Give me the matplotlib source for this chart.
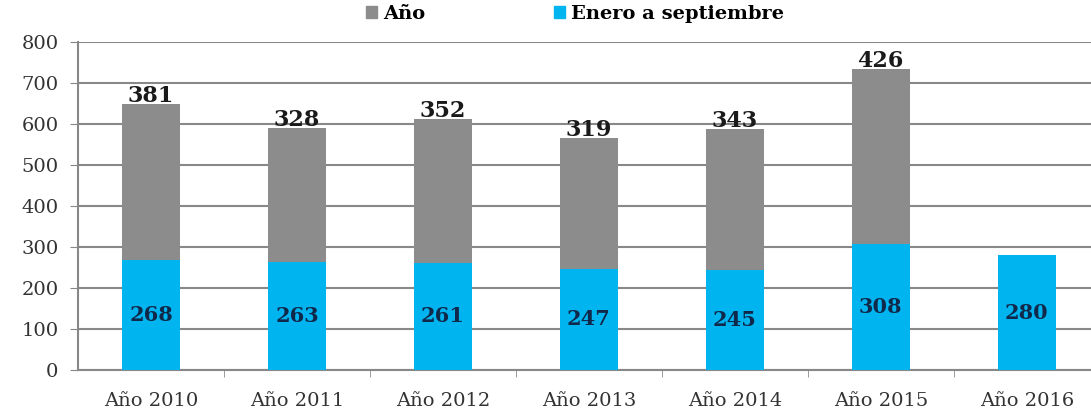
import matplotlib.pyplot as plt
from matplotlib.patches import Patch

years = ['Año 2010', 'Año 2011', 'Año 2012', 'Año 2013', 'Año 2014', 'Año 2015', 'Año 2016']
enero_sep = [268, 263, 261, 247, 245, 308, 280]
anio = [381, 328, 352, 319, 343, 426, None]

gray = '#8c8c8c'
blue = '#00b4ef'

plt.rcParams['font.family'] = 'DejaVu Serif'

fig = plt.figure(figsize=(10.91, 4.19), dpi=100)
ax = fig.add_axes([78 / 1091, 49 / 419, 1013 / 1091, 328 / 419])

x = list(range(len(years)))
ax.bar(x, enero_sep, width=0.4, color=blue, zorder=3)
for i, v in enumerate(anio):
    if v is None:
        continue
    ax.bar(i, v, width=0.4, bottom=enero_sep[i], color=gray, zorder=3)
    ax.text(i, enero_sep[i] + v - 7, str(v), ha='center', va='bottom',
            fontsize=16, fontweight='bold', color='#1a1a1a', zorder=4)
for i, v in enumerate(enero_sep):
    ax.text(i, v / 2, str(v), ha='center', va='center',
            fontsize=15, fontweight='bold', color='#10284a', zorder=4)

ax.set_ylim(0, 800)
ax.set_yticks(range(0, 801, 100))
ax.set_xlim(-0.5, 6.44)
ax.set_xticks(x)
ax.set_xticklabels(years)
ax.set_xticks([i + 0.5 for i in range(6)], minor=True)
ax.tick_params(axis='x', which='major', length=0, pad=16, labelsize=14, colors='#333333')
ax.tick_params(axis='x', which='minor', length=5, color='#888888')
ax.tick_params(axis='y', length=6, color='#888888', labelsize=14, labelcolor='#333333', pad=8)
ax.grid(axis='y', color='#888888', linewidth=1.5, zorder=0)
for s in ['top', 'right']:
    ax.spines[s].set_visible(False)
ax.spines['left'].set_color('#888888')
ax.spines['left'].set_linewidth(1.5)
ax.spines['bottom'].set_color('#888888')
ax.spines['bottom'].set_linewidth(1.5)

handles = [Patch(color=gray, label='Año'), Patch(color=blue, label='Enero a septiembre')]
fig.legend(handles=handles, loc='upper center', bbox_to_anchor=(0.527, 1.03), ncol=2,
           frameon=False, prop={'weight': 'bold', 'size': 14}, handlelength=0.6,
           handleheight=0.6, columnspacing=6.6, handletextpad=0.3)

fig.savefig('out.png', dpi=100)
